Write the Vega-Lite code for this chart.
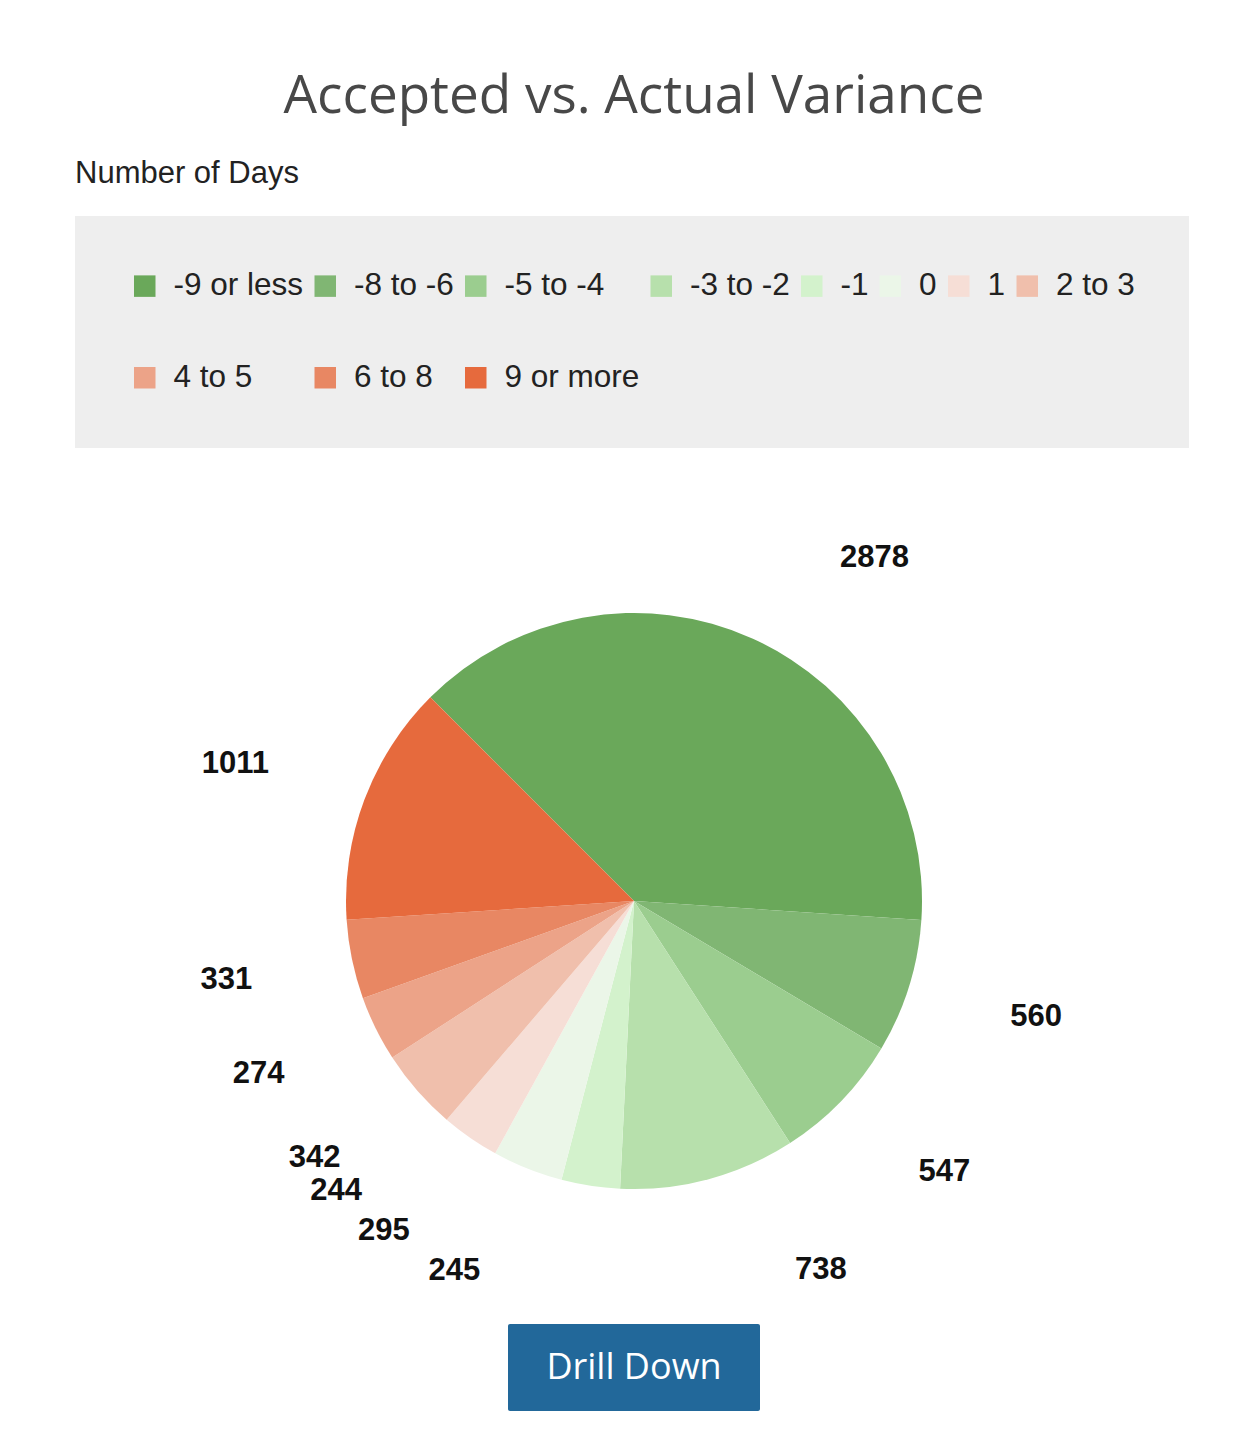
{
  "$schema": "https://vega.github.io/schema/vega-lite/v6.json",
  "background": "white",
  "padding": {"left": 75, "top": 71, "right": 51, "bottom": 31},
  "title": {"text": "Accepted vs. Actual Variance", "font": "Open Sans", "fontSize": 53, "fontWeight": "normal", "color": "#484848", "anchor": "middle", "offset": 34},
  "spacing": 3,
  "center": true,
  "resolve": {"legend": {"color": "independent"}, "scale": {"color": "independent"}},
  "vconcat": [
    {
      "title": {"text": "Number of Days", "anchor": "start", "font": "Liberation Sans", "fontSize": 31, "fontWeight": "normal", "color": "#222222", "offset": 26},
      "width": 1118,
      "height": 840,
      "data": {"values": [
        {"variance": "-9 or less", "count": 2878, "rank": 1},
        {"variance": "-8 to -6", "count": 560, "rank": 2},
        {"variance": "-5 to -4", "count": 547, "rank": 3},
        {"variance": "-3 to -2", "count": 738, "rank": 4},
        {"variance": "-1", "count": 245, "rank": 5},
        {"variance": "0", "count": 295, "rank": 6},
        {"variance": "1", "count": 244, "rank": 7},
        {"variance": "2 to 3", "count": 342, "rank": 8},
        {"variance": "4 to 5", "count": 274, "rank": 9},
        {"variance": "6 to 8", "count": 331, "rank": 10},
        {"variance": "9 or more", "count": 1011, "rank": 11}
      ]},
      "encoding": {
        "theta": {"field": "count", "type": "quantitative", "stack": true, "scale": {"range": [-0.7854, 5.4978]}},
        "order": {"field": "rank", "type": "quantitative"},
        "color": {
          "field": "variance", "type": "nominal",
          "sort": ["-9 or less", "-8 to -6", "-5 to -4", "-3 to -2", "-1", "0", "1", "2 to 3", "4 to 5", "6 to 8", "9 or more"],
          "scale": {
            "domain": ["-9 or less", "-8 to -6", "-5 to -4", "-3 to -2", "-1", "0", "1", "2 to 3", "4 to 5", "6 to 8", "9 or more"],
            "range": ["#6aa85a", "#80b673", "#9bcd8f", "#b7e0ac", "#d3f2cc", "#ebf6e8", "#f6ded6", "#f0bfac", "#eca388", "#e88763", "#e66a3d"]
          },
          "legend": {
            "orient": "top", "title": null, "direction": "horizontal", "columns": 8,
            "fillColor": "#eeeeee", "padding": 54, "offset": 33,
            "symbolType": "square", "symbolSize": 462, "symbolStrokeWidth": 0,
            "labelFont": "Liberation Sans", "labelFontSize": 31.5, "labelColor": "#222222", "labelOffset": 13,
            "columnPadding": 5.5, "rowPadding": 59, "labelLimit": 400
          }
        }
      },
      "layer": [
        {"mark": {"type": "arc", "outerRadius": 288}},
        {
          "mark": {"type": "text", "radius": 390, "align": "left", "baseline": "middle", "dx": 45, "dy": 12, "font": "Liberation Sans", "fontSize": 31, "fontWeight": "bold"},
          "encoding": {
            "color": {"value": "#111111"},
            "text": {"condition": {"test": "datum.rank == 1", "field": "count", "type": "quantitative"}, "value": ""}
          }
        },
        {
          "mark": {"type": "text", "radius": 390, "align": "left", "baseline": "middle", "dx": 4, "font": "Liberation Sans", "fontSize": 31, "fontWeight": "bold"},
          "encoding": {
            "color": {"value": "#111111"},
            "text": {"condition": {"test": "datum.rank == 2 || datum.rank == 3", "field": "count", "type": "quantitative"}, "value": ""}
          }
        },
        {
          "mark": {"type": "text", "radius": 390, "align": "left", "baseline": "middle", "dx": 60, "dy": -8, "font": "Liberation Sans", "fontSize": 31, "fontWeight": "bold"},
          "encoding": {
            "color": {"value": "#111111"},
            "text": {"condition": {"test": "datum.rank == 4", "field": "count", "type": "quantitative"}, "value": ""}
          }
        },
        {
          "mark": {"type": "text", "radius": 390, "align": "right", "baseline": "middle", "dx": -95, "dy": -16, "font": "Liberation Sans", "fontSize": 31, "fontWeight": "bold"},
          "encoding": {
            "color": {"value": "#111111"},
            "text": {"condition": {"test": "datum.rank == 5", "field": "count", "type": "quantitative"}, "value": ""}
          }
        },
        {
          "mark": {"type": "text", "radius": 390, "align": "right", "baseline": "middle", "dx": -80, "dy": -32, "font": "Liberation Sans", "fontSize": 31, "fontWeight": "bold"},
          "encoding": {
            "color": {"value": "#111111"},
            "text": {"condition": {"test": "datum.rank == 6", "field": "count", "type": "quantitative"}, "value": ""}
          }
        },
        {
          "mark": {"type": "text", "radius": 390, "align": "right", "baseline": "middle", "dx": -50, "dy": -31, "font": "Liberation Sans", "fontSize": 31, "fontWeight": "bold"},
          "encoding": {
            "color": {"value": "#111111"},
            "text": {"condition": {"test": "datum.rank == 7", "field": "count", "type": "quantitative"}, "value": ""}
          }
        },
        {
          "mark": {"type": "text", "radius": 390, "align": "right", "baseline": "middle", "font": "Liberation Sans", "fontSize": 31, "fontWeight": "bold"},
          "encoding": {
            "color": {"value": "#111111"},
            "text": {"condition": {"test": "datum.rank >= 8", "field": "count", "type": "quantitative"}, "value": ""}
          }
        }
      ]
    },
    {
      "width": 252,
      "height": 87,
      "data": {"values": [{"label": "Drill Down"}]},
      "encoding": {
        "x": {"field": "label", "type": "nominal", "axis": null, "scale": {"paddingInner": 0, "paddingOuter": 0}}
      },
      "layer": [
        {"mark": {"type": "bar", "color": "#22689a", "cornerRadius": 2}},
        {"mark": {"type": "text", "color": "white", "font": "Open Sans", "fontSize": 36}, "encoding": {"text": {"field": "label"}}}
      ]
    }
  ],
  "config": {"view": {"stroke": null}}
}
